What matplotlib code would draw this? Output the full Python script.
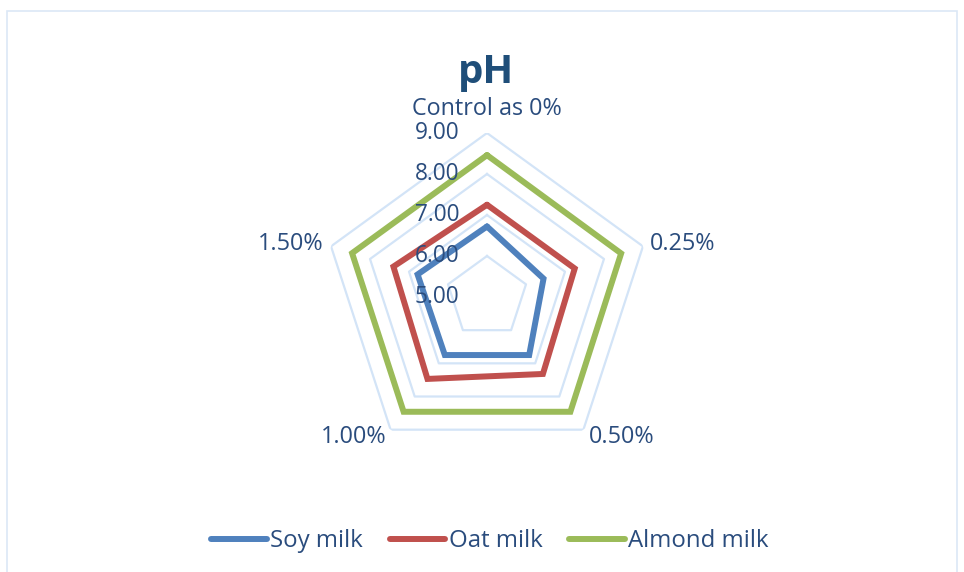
import numpy as np
import matplotlib
matplotlib.use('Agg')
import matplotlib.pyplot as plt
from matplotlib.patches import Rectangle
from matplotlib.transforms import offset_copy

# data
categories = ['Control as 0%', '0.25%', '0.50%', '1.00%', '1.50%']
soy_milk = [6.72, 6.45, 6.75, 6.75, 6.78]
oat_milk = [7.25, 7.25, 7.32, 7.47, 7.40]
almond_milk = [8.46, 8.44, 8.46, 8.46, 8.46]
r_ticks = [5, 6, 7, 8, 9]
r_labels = ['5.00', '6.00', '7.00', '8.00', '9.00']

series = [('Soy milk', soy_milk, '#4F81BD'),
          ('Oat milk', oat_milk, '#C0504D'),
          ('Almond milk', almond_milk, '#9BBB59')]

txt_col = '#2A4C7D'
grid_col = '#D3E4F7'
plt.rcParams['font.family'] = ['Open Sans', 'DejaVu Sans']

fig = plt.figure(figsize=(9.64, 5.72), dpi=100)
fig.patches.append(Rectangle((7 / 964, -0.05), 950 / 964, 1.05 - 11 / 572,
                             transform=fig.transFigure, fill=False,
                             edgecolor='#DCE8F6', linewidth=1.2))

ax = fig.add_axes([323 / 964, 111 / 572, 328 / 964, 328 / 572], projection='polar')
ax.set_theta_offset(np.pi / 2)
ax.set_theta_direction(-1)
ax.set_ylim(5, 9)
ax.grid(False)
ax.spines['polar'].set_visible(False)
ax.set_xticks([])
ax.set_yticks([])
ax.patch.set_alpha(0)

theta = np.linspace(0, 2 * np.pi, len(categories), endpoint=False)
theta_c = np.append(theta, theta[0])

# pentagon grid
for v in r_ticks[1:]:
    ax.plot(theta_c, [v] * len(theta_c), color=grid_col, lw=1.6, zorder=1)

for name, vals, col in series:
    ax.plot(theta_c, vals + vals[:1], color=col, lw=4.3, label=name,
            solid_joinstyle='miter', solid_capstyle='round', zorder=3)

# radial labels
for v, lab in zip(r_ticks, r_labels):
    tr = offset_copy(ax.transData, fig=fig, x=-28, y=0, units='dots')
    ax.text(0, v, lab, transform=tr, ha='right', va='center',
            fontsize=16.3, color=txt_col, zorder=5)

# category labels
offsets = [(0, 24, 'center'), (7, 2, 'left'), (5, -7, 'left'),
           (-4, -7, 'right'), (-8, 2, 'right')]
for t, lab, (dx, dy, ha) in zip(theta, categories, offsets):
    tr = offset_copy(ax.transData, fig=fig, x=dx, y=dy, units='dots')
    ax.text(t, 9, lab, transform=tr, ha=ha, va='center',
            fontsize=16.8, color=txt_col)

fig.text(486 / 964, 1 - 73 / 572, 'pH', ha='center', va='center',
         fontsize=29, fontweight='bold', color='#1F4E79')

fig.legend(loc='center', bbox_to_anchor=(490 / 964, 1 - 541 / 572),
           ncol=3, frameon=False, fontsize=17.3, handlelength=2.3,
           handletextpad=0.15, columnspacing=1.12, labelcolor=txt_col)

fig.savefig('out.png', dpi=100)
